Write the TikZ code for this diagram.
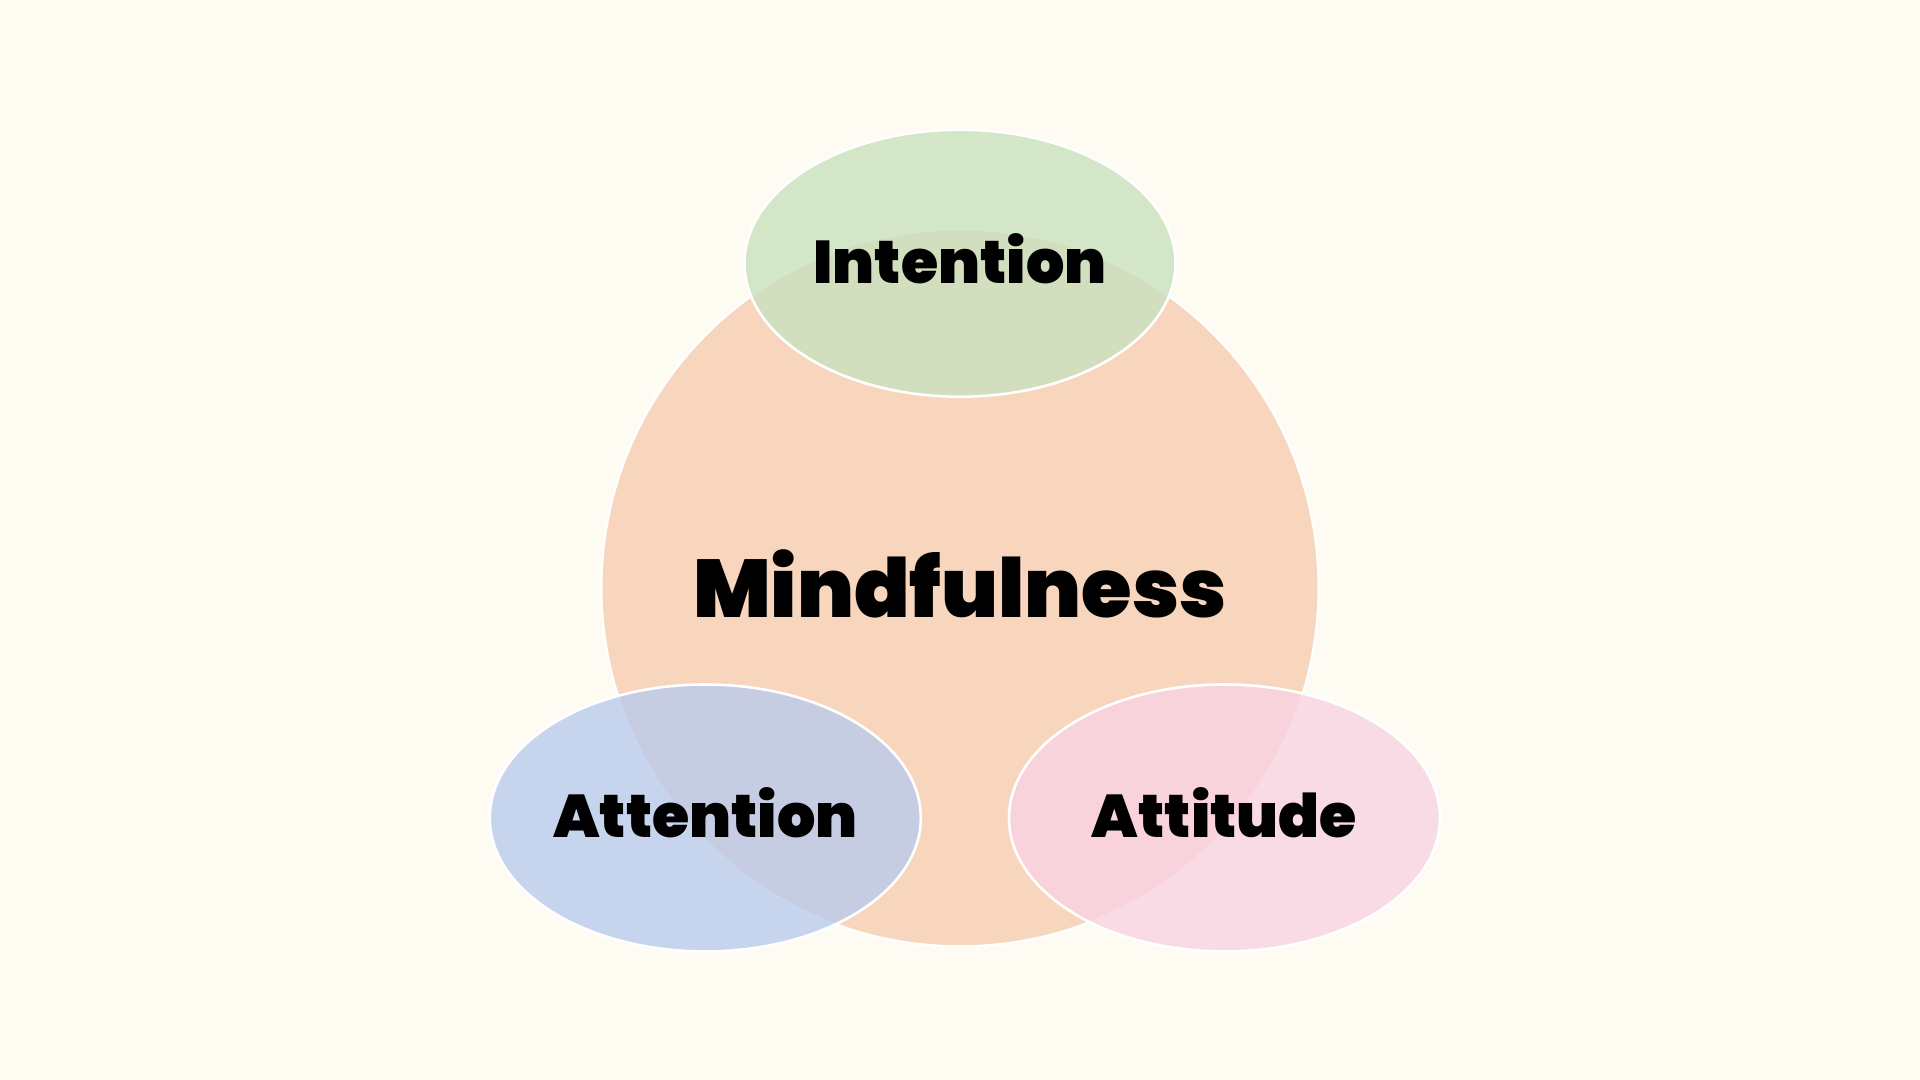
\documentclass[tikz,border=0pt]{standalone}
\usepackage{fontspec}
\newfontfamily\heavy{Poppins Black}
\definecolor{bgcol}{HTML}{FEFBF3}
\definecolor{peach}{HTML}{F8D6BE}
\definecolor{leaf}{HTML}{C9E2BE}
\definecolor{sky}{HTML}{BACBEC}
\definecolor{rose}{HTML}{F8D3E3}
\begin{document}
\begin{tikzpicture}[
    x=0.01cm, y=-0.01cm,
    blob/.style={draw=white, line width=0.6pt, fill opacity=0.8},
    lbl/.style={font=\heavy\fontsize{14}{16}\selectfont, text=black}
]
% Hintergrund
\fill[bgcol] (0,0) rectangle (1568,882);
\useasboundingbox (0,0) rectangle (1568,882);

% Kreis und Ellipsen
\fill[peach, draw=white, line width=0.6pt] (784,480) circle[radius=293];
\filldraw[blob, fill=leaf] (784,215) ellipse[x radius=176, y radius=109];
\filldraw[blob, fill=sky] (576,668) ellipse[x radius=176, y radius=109];
\filldraw[blob, fill=rose] (1000,668) ellipse[x radius=176, y radius=109];

% Beschriftungen
\node[lbl, font=\heavy\fontsize{19}{22}\selectfont] (mind) at (784,477) {Mindfulness};
\node[lbl] (intent) at (784,211) {Intention};
\node[lbl] (atten) at (576,664) {Attention};
\node[lbl] (attit) at (1000,664) {Attitude};
\end{tikzpicture}
\end{document}
